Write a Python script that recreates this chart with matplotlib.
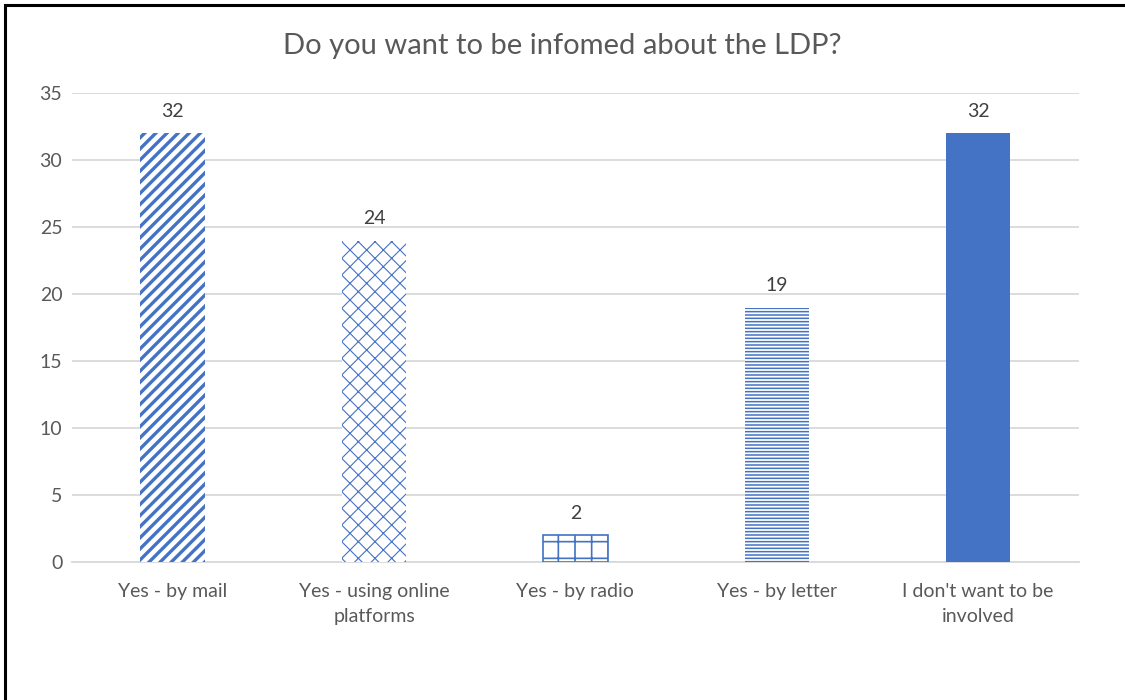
import matplotlib
matplotlib.use("Agg")
import matplotlib.pyplot as plt
from matplotlib.lines import Line2D

categories = ["Yes - by mail", "Yes - using online\nplatforms", "Yes - by radio",
              "Yes - by letter", "I don't want to be\ninvolved"]
values = [32, 24, 2, 19, 32]
hatches = ["///", "xx", "+", "-----", None]
hatch_lws = [2.4, 0.8, 1.2, 1.1, 1.0]
edge_lws = [0, 0, 1.2, 0, 0]
yticks = [0, 5, 10, 15, 20, 25, 30, 35]
title = "Do you want to be infomed about the LDP?"

blue = "#4472C4"
plt.rcParams['font.family'] = ['Lato', 'DejaVu Sans']

fig = plt.figure(figsize=(11.25, 7), dpi=100)
ax = fig.add_axes([0.064, 0.197, 0.895, 0.670])

for i, (v, h, lw, elw) in enumerate(zip(values, hatches, hatch_lws, edge_lws)):
    with plt.rc_context({'hatch.linewidth': lw, 'hatch.color': blue}):
        if h is None:
            ax.bar(i, v, width=0.32, color=blue, linewidth=0, zorder=3)
        else:
            ax.bar(i, v, width=0.32, facecolor="white", edgecolor=blue,
                   hatch=h, linewidth=elw, zorder=3)
    ax.text(i, v + 1.0, str(v), ha="center", va="bottom", fontsize=14,
            color="#404040", zorder=4)

ax.set_xlim(-0.5, len(values) - 0.5)
ax.set_ylim(0, 35)
ax.set_yticks(yticks)
ax.set_xticks(range(len(categories)))
ax.set_xticklabels(categories, fontsize=14, color="#595959", linespacing=1.6)
ax.tick_params(axis="y", labelsize=14, labelcolor="#595959", length=0, pad=7)
ax.tick_params(axis="x", length=0, pad=15)
ax.yaxis.grid(True, color="#D9D9D9", linewidth=1.3, zorder=0)
ax.set_axisbelow(True)
for s in ["top", "right", "left"]:
    ax.spines[s].set_visible(False)
ax.spines["bottom"].set_color("#D9D9D9")
ax.spines["bottom"].set_linewidth(1.3)

fig.text(0.5, 0.934, title, ha="center", va="center", fontsize=21, color="#595959")

fig.add_artist(Line2D([0.0045, 1.0], [0.9929, 0.9929], transform=fig.transFigure,
                      color="black", linewidth=2.2))
fig.add_artist(Line2D([0.0045, 0.0045], [0.0, 0.9929], transform=fig.transFigure,
                      color="black", linewidth=2.2))

fig.savefig("out.png", dpi=100)
